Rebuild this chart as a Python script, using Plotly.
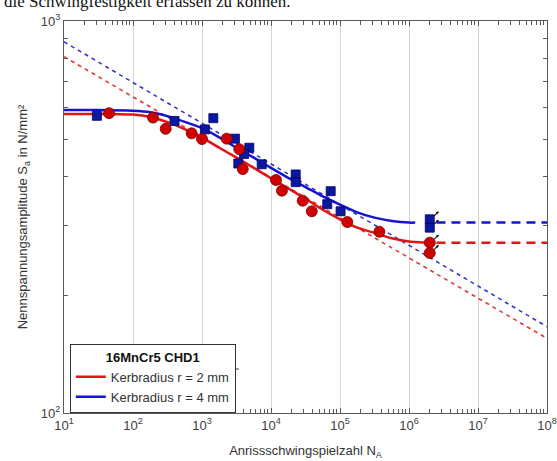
import numpy as np
import plotly.graph_objects as go

# ---- data ----
red_N = [45, 195, 298, 708, 1000, 2280, 3470, 3900, 11800, 14400, 28800, 39000, 127700, 372000]
red_S = [582, 567, 531, 517, 500, 501, 471, 419, 393, 369, 348, 327, 307, 290]
red_runout_N = [2e6, 2e6]
red_runout_S = [272, 256]

blue_N = [30, 400, 1100, 1460, 3000, 4850, 4070, 3360, 7330, 22800, 22800, 73300, 65400, 102000]
blue_S = [573, 556, 529, 565, 501, 475, 458, 433, 431, 406, 388, 368, 341, 327]
blue_runout_N = [2e6, 2e6]
blue_runout_S = [312, 297]

# fitted curves
red_fit_N = [10, 31.6, 100, 178, 316, 562, 1000, 1778, 3162, 5623, 10000, 17783, 31623,
             56234, 1e5, 177828, 316228, 562341, 1e6, 1.78e6]
red_fit_S = [579, 579, 577, 569, 552, 530, 504, 475, 448, 422, 397, 374, 352,
             330, 312, 297, 288, 279, 274, 272]
blue_fit_N = [10, 31.6, 100, 178, 316, 562, 1000, 1778, 3162, 5623, 10000, 17783, 31623,
              56234, 1e5, 177828, 316228, 562341, 1e6, 1.23e6]
blue_fit_S = [593, 593, 590, 585, 572, 553, 533, 505, 475, 448, 422, 398, 377,
              357, 340, 325, 315, 309, 306, 306]

# Basquin extrapolations (dashed)
red_basq_N = [10, 1e8]
red_basq_S = [811, 155]
blue_basq_N = [10, 1e8]
blue_basq_S = [885, 166]

# endurance limits (dashed)
red_end_N = [2.5e6, 1e8]
red_end_S = [272, 272]
blue_end_N = [2.5e6, 1e8]
blue_end_S = [306, 306]

x_ticks = [10, 100, 1e3, 1e4, 1e5, 1e6, 1e7, 1e8]
x_ticktext = ["10<sup>%d</sup>" % k for k in range(1, 9)]
y_ticks = [100, 1000]
y_ticktext = ["10<sup>2</sup>", "10<sup>3</sup>"]

RED = "#e31414"
BLUE = "#1414d2"
RED_M = "#d00000"
BLUE_M = "#0a18a0"

fig = go.Figure()

fig.add_trace(go.Scatter(x=red_basq_N, y=red_basq_S, mode="lines",
                         line=dict(color=RED, width=1.6, dash="4px,4px"), showlegend=False, opacity=0.85))
fig.add_trace(go.Scatter(x=blue_basq_N, y=blue_basq_S, mode="lines",
                         line=dict(color=BLUE, width=1.6, dash="4px,4px"), showlegend=False, opacity=0.85))
fig.add_trace(go.Scatter(x=red_end_N, y=red_end_S, mode="lines",
                         line=dict(color=RED, width=2.5, dash="9px,6px"), showlegend=False))
fig.add_trace(go.Scatter(x=blue_end_N, y=blue_end_S, mode="lines",
                         line=dict(color=BLUE, width=2.5, dash="9px,6px"), showlegend=False))
fig.add_trace(go.Scatter(x=red_fit_N, y=red_fit_S, mode="lines", name="Kerbradius r = 2 mm",
                         line=dict(color=RED, width=2.5, shape="spline", smoothing=0.5)))
fig.add_trace(go.Scatter(x=blue_fit_N, y=blue_fit_S, mode="lines", name="Kerbradius r = 4 mm",
                         line=dict(color=BLUE, width=2.5, shape="spline", smoothing=0.5)))

fig.add_trace(go.Scatter(x=blue_N + blue_runout_N, y=blue_S + blue_runout_S, mode="markers",
                         marker=dict(symbol="square", size=9, color=BLUE_M,
                                     line=dict(color="#000066", width=0.8)), showlegend=False))
fig.add_trace(go.Scatter(x=red_N + red_runout_N, y=red_S + red_runout_S, mode="markers",
                         marker=dict(symbol="circle", size=11, color=RED_M,
                                     line=dict(color="#7a0000", width=0.8)), showlegend=False))

# runout arrows
for n, s in zip(blue_runout_N + red_runout_N, blue_runout_S + red_runout_S):
    fig.add_annotation(x=np.log10(n), y=np.log10(s), xref="x", yref="y", text="",
                       showarrow=True, arrowhead=2, arrowsize=0.5, arrowwidth=1.1,
                       arrowcolor="#111111", ax=-6, ay=6, xshift=9, yshift=8)

# clipped text from the page above
fig.add_annotation(x=-0.128, y=1.049, xref="paper", yref="paper", xanchor="left", yanchor="middle",
                   text="die Schwingfestigkeit erfassen zu können.", showarrow=False,
                   font=dict(family="Liberation Serif", size=17, color="#111111"))

# separator line under the legend title
fig.add_shape(type="line", xref="paper", yref="paper", x0=0.0145, x1=0.362, y0=0.1122, y1=0.1122,
              line=dict(color="#333333", width=1))

axis_common = dict(type="log", showline=True, linecolor="#5a5a5a", linewidth=1, mirror="ticks",
                   ticks="inside", ticklen=5, tickcolor="#5a5a5a", automargin=False,
                   tickfont=dict(family="Liberation Sans", size=13, color="#404040"),
                   zeroline=False)

x_minor = [k * 10 ** d for d in range(1, 8) for k in range(2, 10)]
y_minor = [k * 100 for k in range(2, 10)]

fig.update_xaxes(**axis_common, range=[1, 8], tickvals=x_ticks, ticktext=x_ticktext, showgrid=True,
                 gridcolor="#d4d4d4", gridwidth=1.2,
                 minor=dict(tickvals=x_minor, ticks="inside", ticklen=4, tickcolor="#5a5a5a", showgrid=False),
                 title=dict(text="Anrissschwingspielzahl N<sub>A</sub>", standoff=14,
                            font=dict(family="Liberation Sans", size=13, color="#333333")))
fig.update_yaxes(**axis_common, range=[2, 3], tickvals=y_ticks, ticktext=y_ticktext, showgrid=False,
                 minor=dict(tickvals=y_minor, ticks="inside", ticklen=4, tickcolor="#5a5a5a", showgrid=False),
                 title=dict(text="Nennspannungsamplitude S<sub>a</sub> in N/mm²", standoff=10,
                            font=dict(family="Liberation Sans", size=13, color="#333333")))

fig.update_layout(
    width=557, height=461,
    margin=dict(l=64, r=10, t=21, b=48),
    paper_bgcolor="white", plot_bgcolor="white",
    showlegend=True,
    legend=dict(x=0.012, y=0.0, xanchor="left", yanchor="bottom",
                bgcolor="white", bordercolor="#333333", borderwidth=1,
                font=dict(family="Liberation Sans", size=13, color="#333333"),
                title=dict(text="<b>16MnCr5 CHD1</b>", side="top center",
                           font=dict(family="Liberation Sans", size=13, color="#111111")),
                tracegroupgap=0),
)

fig.write_html("out.html", config={"displayModeBar": False},
               post_script="document.body.style.margin='0';document.body.style.overflow='hidden';")
